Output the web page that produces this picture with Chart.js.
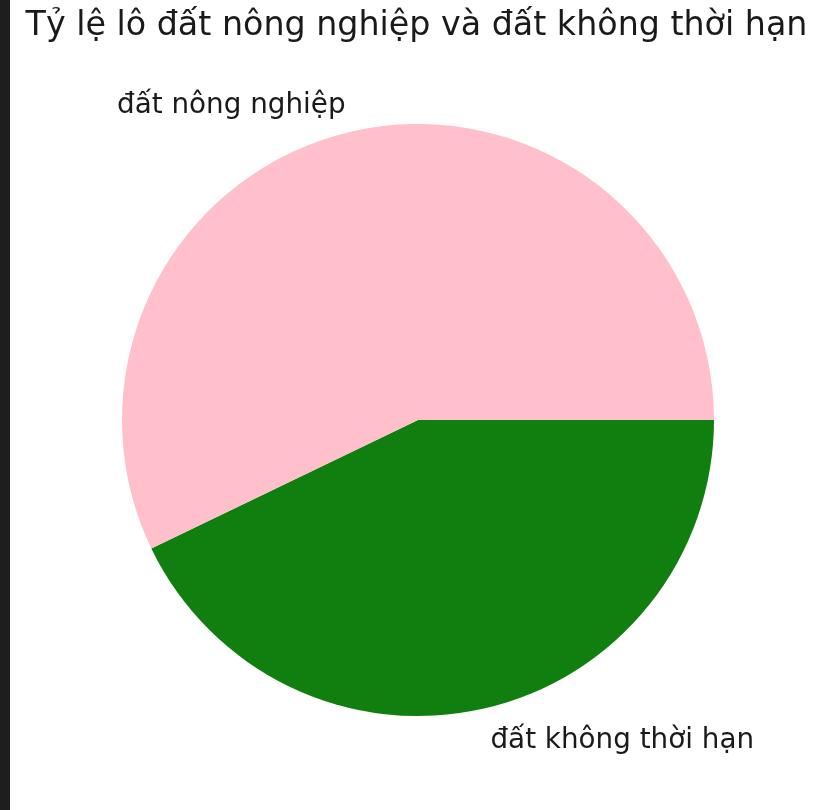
<!DOCTYPE html>
<html>
<head>
<meta charset="utf-8">
<script src="https://cdn.jsdelivr.net/npm/chart.js@4"></script>
<style>
  html, body { margin: 0; padding: 0; background: #ffffff; }
  body { width: 824px; height: 810px; position: relative; overflow: hidden; }
  #strip { position: absolute; left: 0; top: 0; width: 10px; height: 810px; background: #1e1e1e; }
  #wrap { position: absolute; left: 0; top: 0; width: 824px; height: 810px; }
</style>
</head>
<body>
<div id="wrap"><canvas id="c" width="824" height="810"></canvas></div>
<div id="strip"></div>
<script>
const titleText = "Tỷ lệ lô đất nông nghiệp và đất không thời hạn";
// order: drawn clockwise from 3 o'clock in Chart.js (matplotlib draws counter-clockwise)
const categories = ["đất không thời hạn", "đất nông nghiệp"];
const values = [3, 4];
const colors = ["#107f10", "#ffc0cb"];

const labelPlugin = {
  id: 'mplLabels',
  afterDraw(chart) {
    const ctx = chart.ctx;
    ctx.save();
    ctx.fillStyle = '#1a1a1a';
    ctx.font = '33.3px "DejaVu Sans"';
    ctx.textAlign = 'center';
    ctx.textBaseline = 'alphabetic';
    ctx.fillText(titleText, 416.5, 35);

    const fs = 27.8;
    ctx.font = fs + 'px "DejaVu Sans"';
    const meta = chart.getDatasetMeta(0);
    meta.data.forEach((arc, i) => {
      const p = arc.getProps(['x', 'y', 'startAngle', 'endAngle', 'outerRadius'], true);
      const mid = (p.startAngle + p.endAngle) / 2;
      const r = p.outerRadius * 1.1;
      const tx = p.x + Math.cos(mid) * r;
      const ty = p.y + Math.sin(mid) * r;
      ctx.textAlign = tx < p.x ? 'right' : 'left';
      ctx.fillText(chart.data.labels[i], tx, ty + fs * 0.38);
    });
    ctx.restore();
  }
};

new Chart(document.getElementById('c'), {
  type: 'pie',
  data: {
    labels: categories,
    datasets: [{
      data: values,
      backgroundColor: colors,
      borderWidth: 0,
      hoverOffset: 0
    }]
  },
  options: {
    responsive: false,
    animation: false,
    rotation: 90,
    layout: { padding: { left: 122, right: 110, top: 124, bottom: 94 } },
    plugins: {
      legend: { display: false },
      title: { display: false },
      tooltip: { enabled: false }
    }
  },
  plugins: [labelPlugin]
});
</script>
</body>
</html>
